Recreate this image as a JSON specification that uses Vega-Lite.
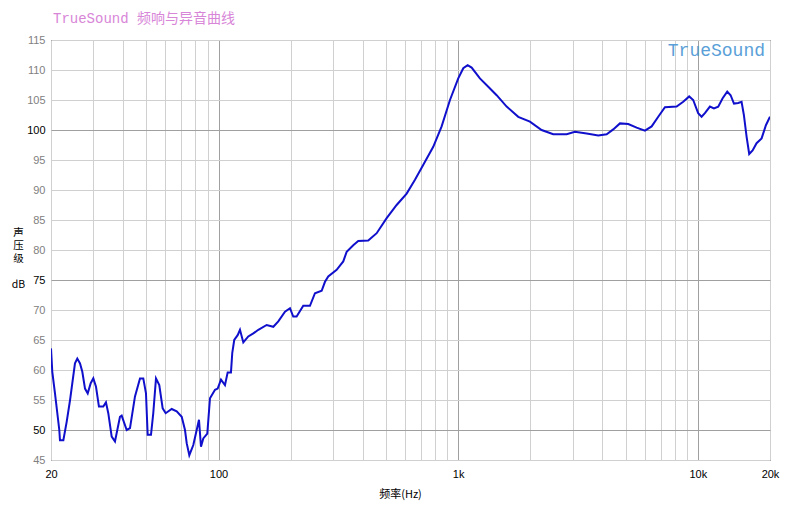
{
  "$schema": "https://vega.github.io/schema/vega-lite/v6.json",
  "width": 719,
  "height": 420,
  "autosize": {"type": "none"},
  "padding": {"left": 51, "top": 40, "right": 33, "bottom": 47},
  "background": "white",
  "title": {
    "text": "TrueSound 频响与异音曲线",
    "anchor": "start",
    "frame": "group",
    "fontSize": 14,
    "font": "Liberation Mono, Noto Sans CJK SC",
    "fontWeight": "normal",
    "color": "#d886d8",
    "offset": 8,
    "dx": 2
  },
  "config": {
    "view": {"stroke": "black", "strokeWidth": 1},
    "axis": {"labelOverlap": false}
  },
  "resolve": {"axis": {"x": "independent", "y": "independent"}},
  "data": {
    "values": [
      {"f": 20, "db": 63.6}, {"f": 20.25, "db": 59.7}, {"f": 20.78, "db": 56.1}, {"f": 21.66, "db": 50},
      {"f": 21.8, "db": 48.3}, {"f": 22.52, "db": 48.3}, {"f": 23.26, "db": 51.4}, {"f": 24.02, "db": 55},
      {"f": 25.18, "db": 61.1}, {"f": 25.75, "db": 61.9}, {"f": 26.43, "db": 61.1}, {"f": 27.02, "db": 59.7},
      {"f": 27.73, "db": 56.9}, {"f": 28.46, "db": 56.1}, {"f": 29.29, "db": 57.8}, {"f": 30.03, "db": 58.6},
      {"f": 30.82, "db": 57.2}, {"f": 31.7, "db": 53.9}, {"f": 33.04, "db": 53.9}, {"f": 33.91, "db": 54.6},
      {"f": 34.68, "db": 52.8}, {"f": 35.83, "db": 48.9}, {"f": 36.98, "db": 48.1}, {"f": 38.8, "db": 52.2},
      {"f": 39.44, "db": 52.4}, {"f": 41.39, "db": 50}, {"f": 42.72, "db": 50.3}, {"f": 44.82, "db": 55.6},
      {"f": 47.03, "db": 58.6}, {"f": 48.54, "db": 58.6}, {"f": 49.81, "db": 56.1}, {"f": 50.63, "db": 49.2},
      {"f": 52.27, "db": 49.2}, {"f": 53.43, "db": 52.8}, {"f": 54.84, "db": 58.6}, {"f": 56.6, "db": 57.5},
      {"f": 58.48, "db": 53.6}, {"f": 60.19, "db": 52.8}, {"f": 63.77, "db": 53.5}, {"f": 66.91, "db": 53.1},
      {"f": 70.21, "db": 52.2}, {"f": 72.46, "db": 50}, {"f": 73.66, "db": 47.8}, {"f": 75.53, "db": 45.8},
      {"f": 78.49, "db": 47.5}, {"f": 81.08, "db": 50}, {"f": 82.89, "db": 51.7}, {"f": 84.5, "db": 47.2},
      {"f": 86.39, "db": 48.6}, {"f": 89.78, "db": 49.4}, {"f": 92.13, "db": 55.3}, {"f": 96.7, "db": 56.7},
      {"f": 99.2, "db": 56.9}, {"f": 102.4, "db": 58.4}, {"f": 106.4, "db": 57.5}, {"f": 109.2, "db": 59.6},
      {"f": 112.7, "db": 59.6}, {"f": 114.1, "db": 62.8}, {"f": 116.3, "db": 65}, {"f": 120.2, "db": 65.8},
      {"f": 122.9, "db": 66.7}, {"f": 126.9, "db": 64.6}, {"f": 133.1, "db": 65.6}, {"f": 139.7, "db": 66.1},
      {"f": 146.6, "db": 66.7}, {"f": 158.8, "db": 67.5}, {"f": 169.3, "db": 67.2}, {"f": 177.6, "db": 68.1},
      {"f": 189.4, "db": 69.7}, {"f": 198.7, "db": 70.3}, {"f": 205, "db": 68.9}, {"f": 211.8, "db": 68.9},
      {"f": 225.7, "db": 70.7}, {"f": 240.7, "db": 70.7}, {"f": 252.6, "db": 72.8}, {"f": 269.4, "db": 73.2},
      {"f": 278.1, "db": 74.7}, {"f": 287, "db": 75.6}, {"f": 311.1, "db": 76.7}, {"f": 331.5, "db": 78.1},
      {"f": 342.5, "db": 79.7}, {"f": 364.9, "db": 80.8}, {"f": 382.8, "db": 81.5}, {"f": 421.4, "db": 81.6},
      {"f": 457, "db": 82.8}, {"f": 503, "db": 85.3}, {"f": 553.6, "db": 87.5}, {"f": 609.5, "db": 89.4},
      {"f": 660.2, "db": 91.7}, {"f": 715.3, "db": 94.2}, {"f": 786.9, "db": 97.2}, {"f": 853, "db": 100.6},
      {"f": 924.1, "db": 105}, {"f": 1000.6, "db": 108.6}, {"f": 1050, "db": 110.3}, {"f": 1095, "db": 110.8},
      {"f": 1138, "db": 110.4}, {"f": 1232, "db": 108.6}, {"f": 1335, "db": 107.2}, {"f": 1447, "db": 105.8},
      {"f": 1593, "db": 103.9}, {"f": 1781, "db": 102.2}, {"f": 1992, "db": 101.4}, {"f": 2229, "db": 100},
      {"f": 2492, "db": 99.3}, {"f": 2835, "db": 99.3}, {"f": 3070, "db": 99.7}, {"f": 3435, "db": 99.4},
      {"f": 3841, "db": 99.1}, {"f": 4163, "db": 99.3}, {"f": 4436, "db": 100.1}, {"f": 4731, "db": 101.1},
      {"f": 5124, "db": 101}, {"f": 5553, "db": 100.4}, {"f": 6015, "db": 99.9}, {"f": 6415, "db": 100.6},
      {"f": 6835, "db": 102.2}, {"f": 7289, "db": 103.8}, {"f": 8153, "db": 103.9}, {"f": 8687, "db": 104.7},
      {"f": 9202, "db": 105.6}, {"f": 9562, "db": 105}, {"f": 10030, "db": 102.8}, {"f": 10366, "db": 102.2},
      {"f": 10700, "db": 102.8}, {"f": 11230, "db": 103.9}, {"f": 11670, "db": 103.6}, {"f": 12160, "db": 103.9},
      {"f": 12690, "db": 105.3}, {"f": 13260, "db": 106.4}, {"f": 13700, "db": 105.8}, {"f": 14150, "db": 104.4},
      {"f": 14740, "db": 104.5}, {"f": 15220, "db": 104.7}, {"f": 15560, "db": 102.5}, {"f": 15970, "db": 98.9},
      {"f": 16380, "db": 96}, {"f": 16920, "db": 96.6}, {"f": 17580, "db": 97.8}, {"f": 18450, "db": 98.6},
      {"f": 19230, "db": 100.8}, {"f": 20000, "db": 102.2}
    ]
  },
  "layer": [
    {
      "mark": {"type": "line", "color": "#1010cc", "strokeWidth": 2, "clip": true},
      "encoding": {
        "x": {
          "field": "f",
          "type": "quantitative",
          "scale": {"type": "log", "domain": [20, 20000], "nice": false},
          "axis": {
            "values": [20, 30, 40, 50, 60, 70, 80, 90, 100, 200, 300, 400, 500, 600, 700, 800, 900, 1000, 2000, 3000, 4000, 5000, 6000, 7000, 8000, 9000, 10000, 20000],
            "labelExpr": "datum.value == 20 ? '20' : datum.value == 100 ? '100' : datum.value == 1000 ? '1k' : datum.value == 10000 ? '10k' : datum.value == 20000 ? '20k' : ''",
            "grid": true,
            "gridColor": {"condition": {"test": "datum.value == 100 || datum.value == 1000 || datum.value == 10000", "value": "#a0a0a0"}, "value": "#d0d0d0"},
            "gridWidth": 1,
            "ticks": false,
            "domain": false,
            "labelFont": "Liberation Sans",
            "labelFontSize": 11,
            "labelColor": "black",
            "labelPadding": 8,
            "labelOverlap": false,
            "labelBound": false,
            "labelFlush": false,
            "title": "频率(Hz)",
            "titleFont": "Noto Sans CJK SC",
            "titleFontSize": 11,
            "titleFontWeight": "normal",
            "titleColor": "black",
            "titleX": 349,
            "titleY": 34,
            "titleAlign": "center",
            "titleBaseline": "middle"
          }
        },
        "y": {
          "field": "db",
          "type": "quantitative",
          "scale": {"domain": [45, 115], "nice": false, "zero": false},
          "axis": {
            "values": [45, 50, 55, 60, 65, 70, 75, 80, 85, 90, 95, 100, 105, 110, 115],
            "grid": true,
            "gridColor": {"condition": {"test": "datum.value % 25 == 0", "value": "#a0a0a0"}, "value": "#d0d0d0"},
            "labelColor": {"condition": {"test": "datum.value % 25 == 0", "value": "black"}, "value": "#808080"},
            "ticks": false,
            "domain": false,
            "labelPadding": 6,
            "labelFont": "Liberation Sans",
            "labelFontSize": 11,
            "labelBound": false,
            "labelOverlap": false,
            "title": ["声", "压", "级", "\u200b", "dB"],
            "titleAngle": 0,
            "titleX": -33,
            "titleY": 187,
            "titleAlign": "center",
            "titleBaseline": "top",
            "titleLineHeight": 13,
            "titleFontSize": 10.5,
            "titleFont": "Noto Sans CJK SC",
            "titleFontWeight": "normal",
            "titleColor": "black"
          }
        }
      }
    },
    {
      "data": {"values": [{"label": "TrueSound"}]},
      "mark": {"type": "text", "align": "right", "baseline": "top", "dx": -5, "dy": 2, "font": "Liberation Mono", "fontSize": 18, "color": "#5a9fd8"},
      "encoding": {
        "x": {"datum": 20000, "type": "quantitative", "axis": null},
        "y": {"datum": 115, "type": "quantitative", "axis": null},
        "text": {"field": "label"}
      }
    }
  ]
}
